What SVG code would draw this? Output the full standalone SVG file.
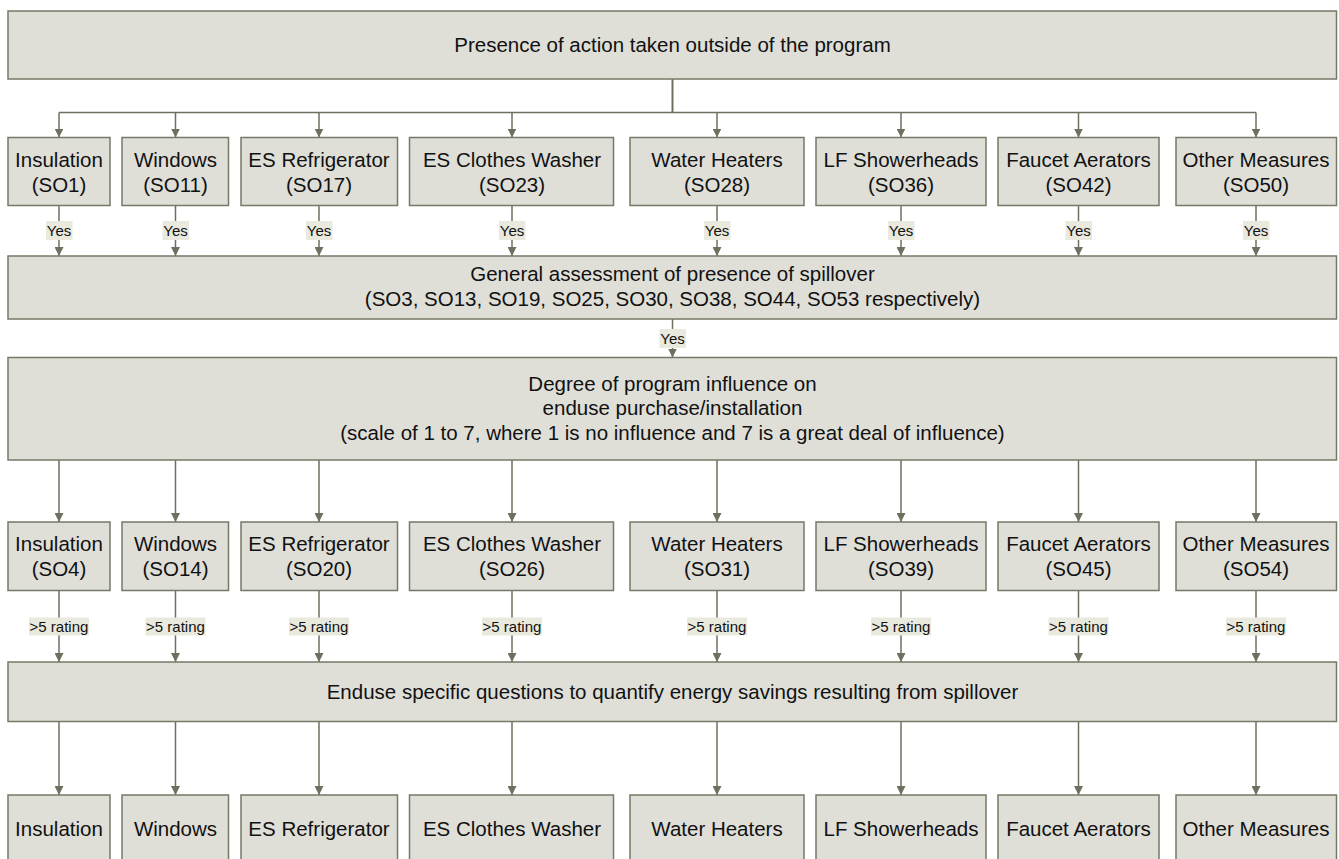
<svg xmlns="http://www.w3.org/2000/svg" width="1339" height="859" viewBox="0 0 1339 859">
<defs>
<style>
.box{fill:#dfdfd8;stroke:#767966;stroke-width:1.5}
.t{font-family:"Liberation Sans",Arial,sans-serif;font-size:20.5px;fill:#111;text-anchor:middle}
.c{stroke:#6d705e;stroke-width:1.5;fill:none}
.lb{fill:#e9e9de}
.lt{font-family:"Liberation Sans",Arial,sans-serif;font-size:15px;fill:#111;text-anchor:middle}
</style>
<marker id="ah" viewBox="0 0 10 10" refX="10" refY="5" markerWidth="9" markerHeight="9" markerUnits="userSpaceOnUse" orient="auto">
<path d="M0,0 L10,5 L0,10 z" fill="#6d705e"/>
</marker>
</defs>
<rect width="1339" height="859" fill="#ffffff"/>

<g id="connectors">
<line class="c" x1="672.5" y1="79" x2="672.5" y2="112.5" style="stroke-width:2"/>
<line class="c" x1="59" y1="112.5" x2="1256" y2="112.5"/>
<g marker-end="url(#ah)">
<line class="c" x1="59" y1="112.5" x2="59" y2="137.5"/>
<line class="c" x1="175.5" y1="112.5" x2="175.5" y2="137.5"/>
<line class="c" x1="319" y1="112.5" x2="319" y2="137.5"/>
<line class="c" x1="512" y1="112.5" x2="512" y2="137.5"/>
<line class="c" x1="717" y1="112.5" x2="717" y2="137.5"/>
<line class="c" x1="901" y1="112.5" x2="901" y2="137.5"/>
<line class="c" x1="1078.5" y1="112.5" x2="1078.5" y2="137.5"/>
<line class="c" x1="1256" y1="112.5" x2="1256" y2="137.5"/>

<line class="c" x1="59" y1="205.5" x2="59" y2="256"/>
<line class="c" x1="175.5" y1="205.5" x2="175.5" y2="256"/>
<line class="c" x1="319" y1="205.5" x2="319" y2="256"/>
<line class="c" x1="512" y1="205.5" x2="512" y2="256"/>
<line class="c" x1="717" y1="205.5" x2="717" y2="256"/>
<line class="c" x1="901" y1="205.5" x2="901" y2="256"/>
<line class="c" x1="1078.5" y1="205.5" x2="1078.5" y2="256"/>
<line class="c" x1="1256" y1="205.5" x2="1256" y2="256"/>

<line class="c" x1="672.5" y1="319" x2="672.5" y2="357.5"/>

<line class="c" x1="59" y1="460" x2="59" y2="522"/>
<line class="c" x1="175.5" y1="460" x2="175.5" y2="522"/>
<line class="c" x1="319" y1="460" x2="319" y2="522"/>
<line class="c" x1="512" y1="460" x2="512" y2="522"/>
<line class="c" x1="717" y1="460" x2="717" y2="522"/>
<line class="c" x1="901" y1="460" x2="901" y2="522"/>
<line class="c" x1="1078.5" y1="460" x2="1078.5" y2="522"/>
<line class="c" x1="1256" y1="460" x2="1256" y2="522"/>

<line class="c" x1="59" y1="590.5" x2="59" y2="662"/>
<line class="c" x1="175.5" y1="590.5" x2="175.5" y2="662"/>
<line class="c" x1="319" y1="590.5" x2="319" y2="662"/>
<line class="c" x1="512" y1="590.5" x2="512" y2="662"/>
<line class="c" x1="717" y1="590.5" x2="717" y2="662"/>
<line class="c" x1="901" y1="590.5" x2="901" y2="662"/>
<line class="c" x1="1078.5" y1="590.5" x2="1078.5" y2="662"/>
<line class="c" x1="1256" y1="590.5" x2="1256" y2="662"/>

<line class="c" x1="59" y1="721.5" x2="59" y2="795"/>
<line class="c" x1="175.5" y1="721.5" x2="175.5" y2="795"/>
<line class="c" x1="319" y1="721.5" x2="319" y2="795"/>
<line class="c" x1="512" y1="721.5" x2="512" y2="795"/>
<line class="c" x1="717" y1="721.5" x2="717" y2="795"/>
<line class="c" x1="901" y1="721.5" x2="901" y2="795"/>
<line class="c" x1="1078.5" y1="721.5" x2="1078.5" y2="795"/>
<line class="c" x1="1256" y1="721.5" x2="1256" y2="795"/>
</g>

<g id="yes-labels">
<rect class="lb" x="46" y="221" width="26.5" height="19"/><text class="lt" x="59" y="236">Yes</text>
<rect class="lb" x="162.5" y="221" width="26.5" height="19"/><text class="lt" x="175.5" y="236">Yes</text>
<rect class="lb" x="306" y="221" width="26.5" height="19"/><text class="lt" x="319" y="236">Yes</text>
<rect class="lb" x="499" y="221" width="26.5" height="19"/><text class="lt" x="512" y="236">Yes</text>
<rect class="lb" x="704" y="221" width="26.5" height="19"/><text class="lt" x="717" y="236">Yes</text>
<rect class="lb" x="888" y="221" width="26.5" height="19"/><text class="lt" x="901" y="236">Yes</text>
<rect class="lb" x="1065.5" y="221" width="26.5" height="19"/><text class="lt" x="1078.5" y="236">Yes</text>
<rect class="lb" x="1243" y="221" width="26.5" height="19"/><text class="lt" x="1256" y="236">Yes</text>
<rect class="lb" x="659.5" y="329" width="26.5" height="19"/><text class="lt" x="672.5" y="344">Yes</text>
</g>

<g id="rating-labels">
<rect class="lb" x="29" y="617.5" width="60" height="18"/><text class="lt" x="59" y="632">&gt;5 rating</text>
<rect class="lb" x="145.5" y="617.5" width="60" height="18"/><text class="lt" x="175.5" y="632">&gt;5 rating</text>
<rect class="lb" x="289" y="617.5" width="60" height="18"/><text class="lt" x="319" y="632">&gt;5 rating</text>
<rect class="lb" x="482" y="617.5" width="60" height="18"/><text class="lt" x="512" y="632">&gt;5 rating</text>
<rect class="lb" x="687" y="617.5" width="60" height="18"/><text class="lt" x="717" y="632">&gt;5 rating</text>
<rect class="lb" x="871" y="617.5" width="60" height="18"/><text class="lt" x="901" y="632">&gt;5 rating</text>
<rect class="lb" x="1048.5" y="617.5" width="60" height="18"/><text class="lt" x="1078.5" y="632">&gt;5 rating</text>
<rect class="lb" x="1226" y="617.5" width="60" height="18"/><text class="lt" x="1256" y="632">&gt;5 rating</text>
</g>
</g>

<g id="n-presence"><rect class="box" x="8" y="11" width="1328.5" height="68"/><text class="t" x="672.5" y="52">Presence of action taken outside of the program</text></g>

<g id="n-r1-insulation"><rect class="box" x="8" y="137.5" width="102" height="68"/><text class="t" x="59" y="167">Insulation</text><text class="t" x="59" y="191.5">(SO1)</text></g>
<g id="n-r1-windows"><rect class="box" x="122" y="137.5" width="106.5" height="68"/><text class="t" x="175.5" y="167">Windows</text><text class="t" x="175.5" y="191.5">(SO11)</text></g>
<g id="n-r1-refrigerator"><rect class="box" x="241" y="137.5" width="156.5" height="68"/><text class="t" x="319" y="167">ES Refrigerator</text><text class="t" x="319" y="191.5">(SO17)</text></g>
<g id="n-r1-washer"><rect class="box" x="409.5" y="137.5" width="204" height="68"/><text class="t" x="512" y="167">ES Clothes Washer</text><text class="t" x="512" y="191.5">(SO23)</text></g>
<g id="n-r1-heaters"><rect class="box" x="630" y="137.5" width="174" height="68"/><text class="t" x="717" y="167">Water Heaters</text><text class="t" x="717" y="191.5">(SO28)</text></g>
<g id="n-r1-showerheads"><rect class="box" x="816" y="137.5" width="170" height="68"/><text class="t" x="901" y="167">LF Showerheads</text><text class="t" x="901" y="191.5">(SO36)</text></g>
<g id="n-r1-aerators"><rect class="box" x="998" y="137.5" width="161" height="68"/><text class="t" x="1078.5" y="167">Faucet Aerators</text><text class="t" x="1078.5" y="191.5">(SO42)</text></g>
<g id="n-r1-other"><rect class="box" x="1176" y="137.5" width="160.5" height="68"/><text class="t" x="1256" y="167">Other Measures</text><text class="t" x="1256" y="191.5">(SO50)</text></g>

<g id="n-general"><rect class="box" x="8" y="256" width="1328.5" height="63"/><text class="t" x="672.5" y="281">General assessment of presence of spillover</text><text class="t" x="672.5" y="305.5">(SO3, SO13, SO19, SO25, SO30, SO38, SO44, SO53 respectively)</text></g>

<g id="n-degree"><rect class="box" x="8" y="357.5" width="1328.5" height="102.5"/><text class="t" x="672.5" y="390.5">Degree of program influence on</text><text class="t" x="672.5" y="415">enduse purchase/installation</text><text class="t" x="672.5" y="439.5">(scale of 1 to 7, where 1 is no influence and 7 is a great deal of influence)</text></g>

<g id="n-r2-insulation"><rect class="box" x="8" y="522" width="102" height="68.5"/><text class="t" x="59" y="551">Insulation</text><text class="t" x="59" y="575.5">(SO4)</text></g>
<g id="n-r2-windows"><rect class="box" x="122" y="522" width="106.5" height="68.5"/><text class="t" x="175.5" y="551">Windows</text><text class="t" x="175.5" y="575.5">(SO14)</text></g>
<g id="n-r2-refrigerator"><rect class="box" x="241" y="522" width="156.5" height="68.5"/><text class="t" x="319" y="551">ES Refrigerator</text><text class="t" x="319" y="575.5">(SO20)</text></g>
<g id="n-r2-washer"><rect class="box" x="409.5" y="522" width="204" height="68.5"/><text class="t" x="512" y="551">ES Clothes Washer</text><text class="t" x="512" y="575.5">(SO26)</text></g>
<g id="n-r2-heaters"><rect class="box" x="630" y="522" width="174" height="68.5"/><text class="t" x="717" y="551">Water Heaters</text><text class="t" x="717" y="575.5">(SO31)</text></g>
<g id="n-r2-showerheads"><rect class="box" x="816" y="522" width="170" height="68.5"/><text class="t" x="901" y="551">LF Showerheads</text><text class="t" x="901" y="575.5">(SO39)</text></g>
<g id="n-r2-aerators"><rect class="box" x="998" y="522" width="161" height="68.5"/><text class="t" x="1078.5" y="551">Faucet Aerators</text><text class="t" x="1078.5" y="575.5">(SO45)</text></g>
<g id="n-r2-other"><rect class="box" x="1176" y="522" width="160.5" height="68.5"/><text class="t" x="1256" y="551">Other Measures</text><text class="t" x="1256" y="575.5">(SO54)</text></g>

<g id="n-enduse"><rect class="box" x="8" y="662" width="1328.5" height="59.5"/><text class="t" x="672.5" y="699">Enduse specific questions to quantify energy savings resulting from spillover</text></g>

<g id="n-r3-insulation"><rect class="box" x="8" y="795" width="102" height="68"/><text class="t" x="59" y="835.5">Insulation</text></g>
<g id="n-r3-windows"><rect class="box" x="122" y="795" width="106.5" height="68"/><text class="t" x="175.5" y="835.5">Windows</text></g>
<g id="n-r3-refrigerator"><rect class="box" x="241" y="795" width="156.5" height="68"/><text class="t" x="319" y="835.5">ES Refrigerator</text></g>
<g id="n-r3-washer"><rect class="box" x="409.5" y="795" width="204" height="68"/><text class="t" x="512" y="835.5">ES Clothes Washer</text></g>
<g id="n-r3-heaters"><rect class="box" x="630" y="795" width="174" height="68"/><text class="t" x="717" y="835.5">Water Heaters</text></g>
<g id="n-r3-showerheads"><rect class="box" x="816" y="795" width="170" height="68"/><text class="t" x="901" y="835.5">LF Showerheads</text></g>
<g id="n-r3-aerators"><rect class="box" x="998" y="795" width="161" height="68"/><text class="t" x="1078.5" y="835.5">Faucet Aerators</text></g>
<g id="n-r3-other"><rect class="box" x="1176" y="795" width="160.5" height="68"/><text class="t" x="1256" y="835.5">Other Measures</text></g>
</svg>
